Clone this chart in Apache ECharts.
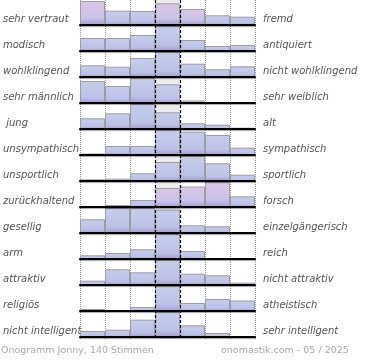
<!DOCTYPE html>
<html><head><meta charset="utf-8">
<script src="https://cdn.jsdelivr.net/npm/echarts@6/dist/echarts.min.js"></script>
<style>html,body{margin:0;padding:0;background:#fff}#c{width:370px;height:360px}</style>
</head><body><div id="c"></div>
<script>
const leftLabels = ['sehr vertraut','modisch','wohlklingend','sehr männlich',' jung','unsympathisch','unsportlich','zurückhaltend','gesellig','arm','attraktiv','religiös','nicht intelligent'];
const rightLabels = ['fremd','antiquiert','nicht wohlklingend','sehr weiblich','alt','sympathisch','sportlich','forsch','einzelgängerisch','reich','nicht attraktiv','atheistisch','sehr intelligent'];
const scaleSteps = ['1','2','3','4','5','6','7'];
// relative bar heights per row (row maximum = 25)
const vertraut     = [24, 14.3, 14, 21.7, 16, 9.7, 8.3];
const modisch      = [13, 13, 16, 25, 11, 5, 6];
const wohlklingend = [11.7, 10.3, 19, 25, 13.3, 7.7, 10.7];
const maennlich    = [22, 17, 25, 18.7, 2.5, 0.5, 0];
const jung         = [10.7, 15.7, 25, 16.7, 5.7, 4.3, 1.3];
const unsympath    = [1.5, 9, 9, 25, 23.3, 20, 7.3];
const unsportlich  = [1.7, 2.3, 7.7, 19, 25, 17.7, 6.3];
const zurueck      = [0.3, 2, 7, 19, 20.5, 25, 10.7];
const gesellig     = [13.7, 25, 25, 23.3, 7.7, 6.7, 0];
const arm          = [3.7, 6, 9.7, 25, 8, 0, 0];
const attraktiv    = [4.3, 15.7, 12.7, 25, 11.3, 9.7, 2.3];
const religioes    = [2, 0.5, 4, 25, 8, 12, 10.5];
const intelligent  = [6, 7.3, 17.3, 25, 11.7, 4, 1];
const rowValues = [vertraut, modisch, wohlklingend, maennlich, jung, unsympath, unsportlich, zurueck, gesellig, arm, attraktiv, religioes, intelligent];
// bars drawn in the pink tone: [row, column]
const pinkBars = [[0,0],[0,3],[0,4],[7,3],[7,4],[7,5]];
const footerLeft = 'Onogramm Jonny, 140 Stimmen';
const footerRight = 'onomastik.com - 05 / 2025';

const FONT = 'DejaVu Sans';
const L = 80, W = 175, ROW = 26, RH = 25;
const blueGrad = {type:'linear',x:0,y:0,x2:0,y2:1,colorStops:[{offset:0,color:'#c6cdec'},{offset:0.75,color:'#bcc2e6'},{offset:1,color:'#a79cd2'}]};
const pinkGrad = {type:'linear',x:0,y:0,x2:0,y2:1,colorStops:[{offset:0,color:'#dcc4e5'},{offset:0.7,color:'#c8c4e8'},{offset:1,color:'#a79cd2'}]};

const grid = [], xAxis = [], yAxis = [], series = [];
// background grid: gray middle column, dotted and dashed column lines
grid.push({left:L, top:0, width:W, height:339});
xAxis.push({gridIndex:0, type:'category', data:scaleSteps, boundaryGap:true, z:0,
  axisLine:{show:false}, axisTick:{show:false}, axisLabel:{show:false},
  splitLine:{show:true, lineStyle:{type:'dotted', width:1, color:['#999','#999','#999','rgba(0,0,0,0)','rgba(0,0,0,0)','#999','#999','#999']}},
  splitArea:{show:true, areaStyle:{color:['rgba(0,0,0,0)','rgba(0,0,0,0)','rgba(0,0,0,0)','#ececec','rgba(0,0,0,0)','rgba(0,0,0,0)','rgba(0,0,0,0)']}}});
xAxis.push({gridIndex:0, type:'value', min:0, max:7, interval:1, position:'top', z:10,
  axisLine:{show:false}, axisTick:{show:false}, axisLabel:{show:false},
  splitLine:{show:true, lineStyle:{type:[3,2], width:1.2, color:['rgba(0,0,0,0)','rgba(0,0,0,0)','rgba(0,0,0,0)','#000','#000','rgba(0,0,0,0)','rgba(0,0,0,0)','rgba(0,0,0,0)']}}});
yAxis.push({gridIndex:0, type:'value', min:0, max:1, show:false});
// label grid
grid.push({left:L, top:6.5, width:W, height:338});
xAxis.push({gridIndex:1, type:'value', min:0, max:1, show:false});
yAxis.push({gridIndex:1, type:'category', data:leftLabels, inverse:true, position:'left',
  axisLine:{show:false}, axisTick:{show:false}, splitLine:{show:false},
  axisLabel:{align:'left', margin:L, fontFamily:FONT, fontStyle:'italic', fontSize:10, color:'#555'}});
yAxis.push({gridIndex:1, type:'category', data:rightLabels, inverse:true, position:'right',
  axisLine:{show:false}, axisTick:{show:false}, splitLine:{show:false},
  axisLabel:{align:'left', margin:8, fontFamily:FONT, fontStyle:'italic', fontSize:10, color:'#555'}});

rowValues.forEach((vals, i) => {
  const gi = grid.length;
  grid.push({left:L, top:ROW*i, width:W, height:RH});
  xAxis.push({gridIndex:gi, type:'category', data:scaleSteps, boundaryGap:true, z:5,
    axisLine:{show:true, lineStyle:{color:'#000', width:2, shadowColor:'rgba(0,0,0,0.35)', shadowOffsetY:1, shadowBlur:1}},
    axisTick:{show:false}, axisLabel:{show:false}, splitLine:{show:false}});
  yAxis.push({gridIndex:gi, type:'value', min:0, max:RH, show:false});
  series.push({type:'bar', xAxisIndex:xAxis.length-1, yAxisIndex:yAxis.length-1,
    barWidth:'100%', barCategoryGap:'0%', silent:true,
    data: vals.map((v, j) => ({value:v, itemStyle:{color: pinkBars.some(p => p[0]===i && p[1]===j) ? pinkGrad : blueGrad}})),
    itemStyle:{borderColor:'#9c9ca8', borderWidth:1}});
});

const chart = echarts.init(document.getElementById('c'), null, {renderer:'canvas'});
chart.setOption({
  animation:false,
  grid, xAxis, yAxis, series,
  title:[
    {text:footerLeft, left:1, top:346, padding:0, textStyle:{fontFamily:FONT, fontSize:9.5, fontWeight:'normal', color:'#aaa'}},
    {text:footerRight, left:221, top:346, padding:0, textStyle:{fontFamily:FONT, fontSize:9.5, fontWeight:'normal', color:'#aaa'}}
  ]
});
</script></body></html>
